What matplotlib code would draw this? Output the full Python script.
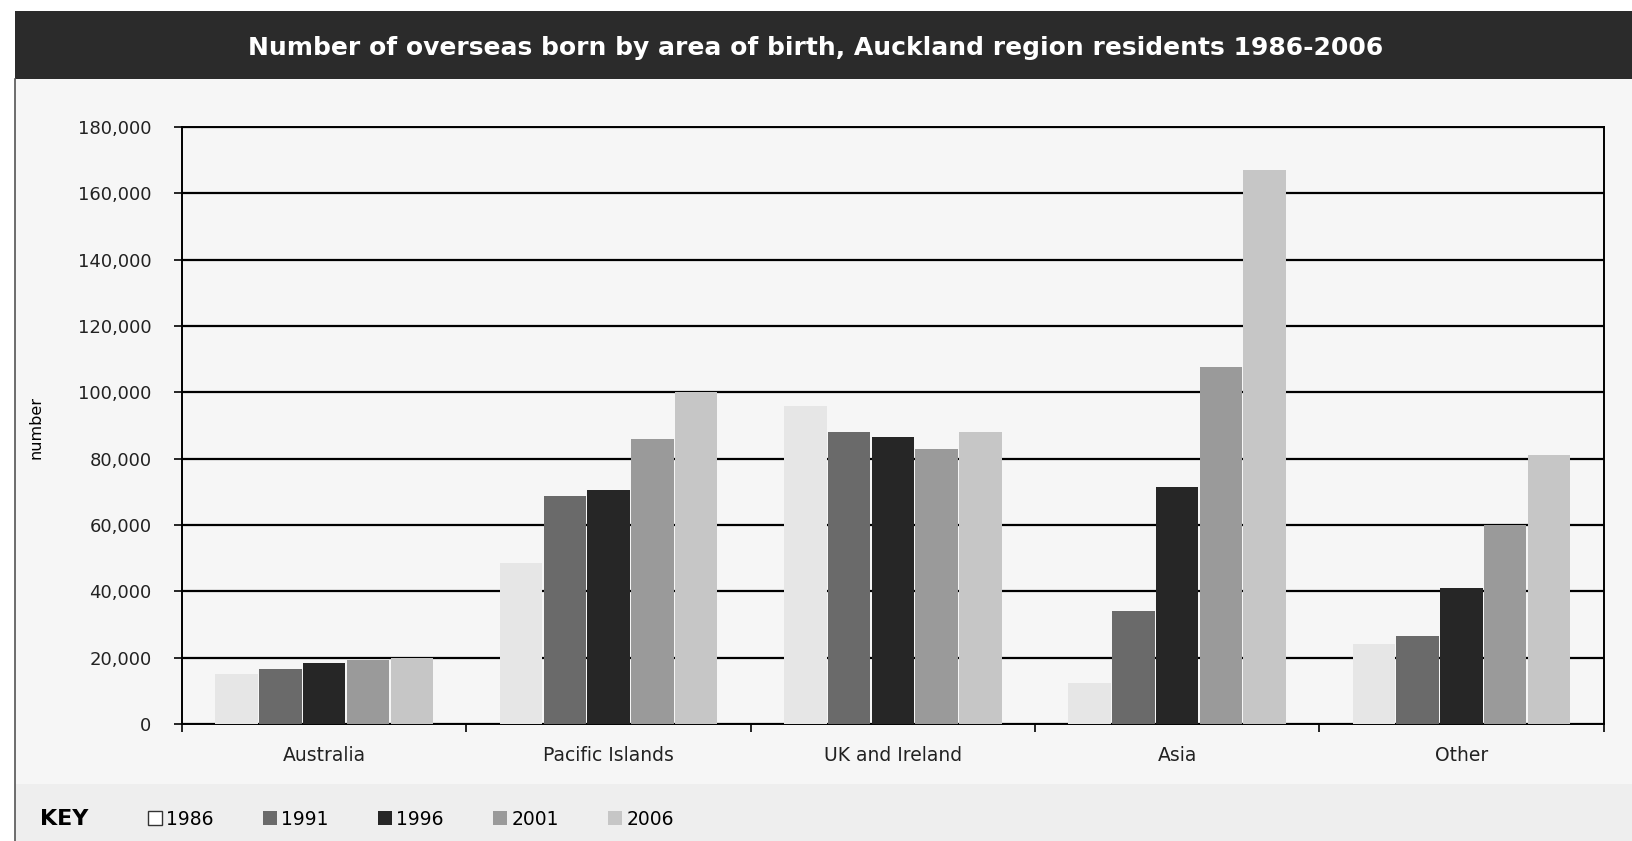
import numpy as np
import matplotlib
matplotlib.use('Agg')
import matplotlib.pyplot as plt
from matplotlib.patches import Rectangle, Patch
from matplotlib.lines import Line2D
from matplotlib.ticker import FuncFormatter, FixedLocator

# data
areas = ['Australia', 'Pacific Islands', 'UK and Ireland', 'Asia', 'Other']
years = ['1986', '1991', '1996', '2001', '2006']
v1986 = [15000, 48500, 96000, 12500, 24000]
v1991 = [16500, 68700, 88000, 34000, 26500]
v1996 = [18300, 70600, 86500, 71500, 41000]
v2001 = [19300, 86000, 83000, 107500, 60000]
v2006 = [20000, 100000, 88000, 167000, 81000]
series = [v1986, v1991, v1996, v2001, v2006]

colors = ['#e6e6e6', '#6a6a6a', '#262626', '#9a9a9a', '#c6c6c6']

fig = plt.figure(figsize=(16.33, 8.41), dpi=100)
fig.patch.set_facecolor('white')

# panel background + shaded key band
fig.patches.append(Rectangle((0.0092, 0.0), 0.9908, 0.906, transform=fig.transFigure,
                             facecolor='#f6f6f6', edgecolor='none', zorder=-3))
fig.patches.append(Rectangle((0.0092, 0.0), 0.9908, 0.068, transform=fig.transFigure,
                             facecolor='#eeeeee', edgecolor='none', zorder=-2))
fig.lines.append(Line2D([0.0092, 0.0092], [0.0, 0.906], transform=fig.transFigure,
                        color='#555555', lw=1.2))

# title bar
fig.patches.append(Rectangle((0.0092, 0.906), 0.9908, 0.081, transform=fig.transFigure,
                             facecolor='#2b2b2b', edgecolor='none', zorder=-1))
fig.text(0.4997, 0.943,
         'Number of overseas born by area of birth, Auckland region residents 1986-2006',
         color='white', fontsize=18, fontweight='bold', ha='center', va='center')

ax = fig.add_axes([0.1115, 0.139, 0.8705, 0.710])
ax.set_facecolor('none')

x = np.arange(len(areas))
width = 0.154
for i, vals in enumerate(series):
    ax.bar(x + (i - 2) * width, vals, width=width * 0.97, color=colors[i],
           edgecolor='none', zorder=3, label=years[i])

ax.set_xlim(-0.5, len(areas) - 0.5)
ax.set_ylim(0, 180000)
ax.set_yticks(np.arange(0, 180001, 20000))
ax.yaxis.set_major_formatter(FuncFormatter(lambda v, p: f'{v:,.0f}'))
ax.yaxis.grid(True, color='black', lw=1.6)
ax.set_axisbelow(True)

ax.set_xticks(x)
ax.set_xticklabels(areas, fontsize=13.5, color='#222222')
ax.xaxis.set_minor_locator(FixedLocator(np.arange(-0.5, len(areas), 1.0)))
ax.tick_params(axis='x', which='major', length=0, pad=16)
ax.tick_params(axis='x', which='minor', length=6, width=1.2, direction='out')
ax.tick_params(axis='y', length=6, width=1.2, direction='out', pad=16,
               labelsize=13, labelcolor='#222222')

for s in ax.spines.values():
    s.set_color('black')
    s.set_linewidth(1.4)

fig.text(0.022, 0.492, 'number', rotation=90, fontsize=11.5, ha='center', va='center')

# key
fig.text(0.0245, 0.026, 'KEY', fontsize=16, fontweight='bold', ha='left', va='center')
handles = [Patch(facecolor='white' if i == 0 else colors[i],
                 edgecolor='#333333' if i == 0 else 'none', lw=1.0)
           for i in range(len(years))]
fig.legend(handles, years, loc='center left', bbox_to_anchor=(0.080, 0.026), ncol=5,
           frameon=False, fontsize=13.5, handlelength=0.75, handleheight=0.75,
           handletextpad=0.25, columnspacing=2.6)

fig.savefig('out.png', dpi=100)
